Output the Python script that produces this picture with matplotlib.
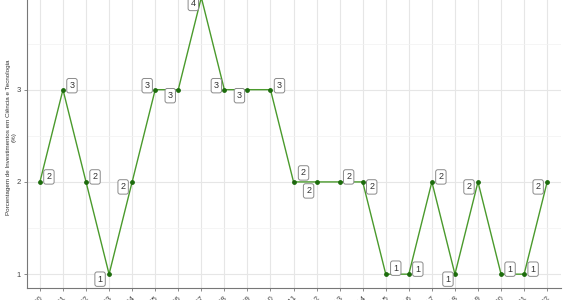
import matplotlib
matplotlib.use("Agg")
import matplotlib.pyplot as plt
from matplotlib.ticker import MultipleLocator

plt.rcParams['font.family'] = ['Liberation Sans', 'DejaVu Sans']

# dados
anos = [str(a) for a in range(2000, 2023)]
valores = [2, 3, 2, 1, 2, 3, 3, 4, 3, 3, 3, 2, 2, 2, 2, 1, 1, 2, 1, 2, 1, 1, 2]

# deslocamento dos rótulos (pixels), imitando o ggrepel
desloc = [(9, 5), (9, 4), (9, 5), (-9, -5), (-9, -5), (-8, 4), (-8, -6), (-8, -6),
          (-8, 4), (-8, -6), (9, 4), (10, 9), (-8, -9), (9, 5), (9, -5), (10, 6),
          (9, 5), (9, 5), (-7, -5), (-9, -5), (9, 5), (9, 5), (-9, -5)]

fig = plt.figure(figsize=(5.66, 3.0), dpi=100)
ax = fig.add_axes([27 / 566, 12 / 300, 534 / 566, 304.4 / 300])

x = list(range(len(anos)))
ax.plot(x, valores, color="#4a9a2c", lw=1.0, zorder=3)
ax.scatter(x, valores, color="#1c6b0c", s=6, zorder=4)

for i, (xi, v, (dx, dy)) in enumerate(zip(x, valores, desloc)):
    seta = None
    if i == 11:
        seta = dict(arrowstyle="-", color="#333333", lw=0.6, shrinkA=4, shrinkB=1)
    ax.annotate(str(v), (xi, v), xytext=(dx, dy), textcoords="offset pixels",
                ha="center", va="center", fontsize=6.5, color="#333333", zorder=5,
                arrowprops=seta,
                bbox=dict(boxstyle="round,pad=0.3,rounding_size=0.25", fc="white",
                          ec="#8a8a8a", lw=0.7))

ax.set_xlim(-0.56, len(anos) - 1 + 0.6)
ax.set_ylim(0.85, 4.15)
ax.set_xticks(x)
ax.set_xticklabels(anos, rotation=45, ha="right", va="top", rotation_mode="anchor")
ax.yaxis.set_major_locator(MultipleLocator(1))
ax.yaxis.set_minor_locator(MultipleLocator(0.5))

ax.grid(True, which="major", color="#e6e6e6", lw=0.8)
ax.grid(True, which="minor", axis="y", color="#f2f2f2", lw=0.5)
ax.set_axisbelow(True)

for s in ["top", "right"]:
    ax.spines[s].set_visible(False)
for s in ["left", "bottom"]:
    ax.spines[s].set_color("#777777")
    ax.spines[s].set_linewidth(0.8)

ax.tick_params(axis="both", which="major", length=2.5, width=0.6, color="#777777",
               labelsize=5.5, labelcolor="#444444", pad=2)
ax.tick_params(axis="y", which="minor", length=0)

ax.set_ylabel("Porcentagem de Investimentos em Ciência e Tecnologia\n(%)",
              fontsize=4.5, color="#333333", linespacing=1.3)
ax.yaxis.set_label_coords(-0.019, 0.496)

fig.savefig("out.png", dpi=100)
